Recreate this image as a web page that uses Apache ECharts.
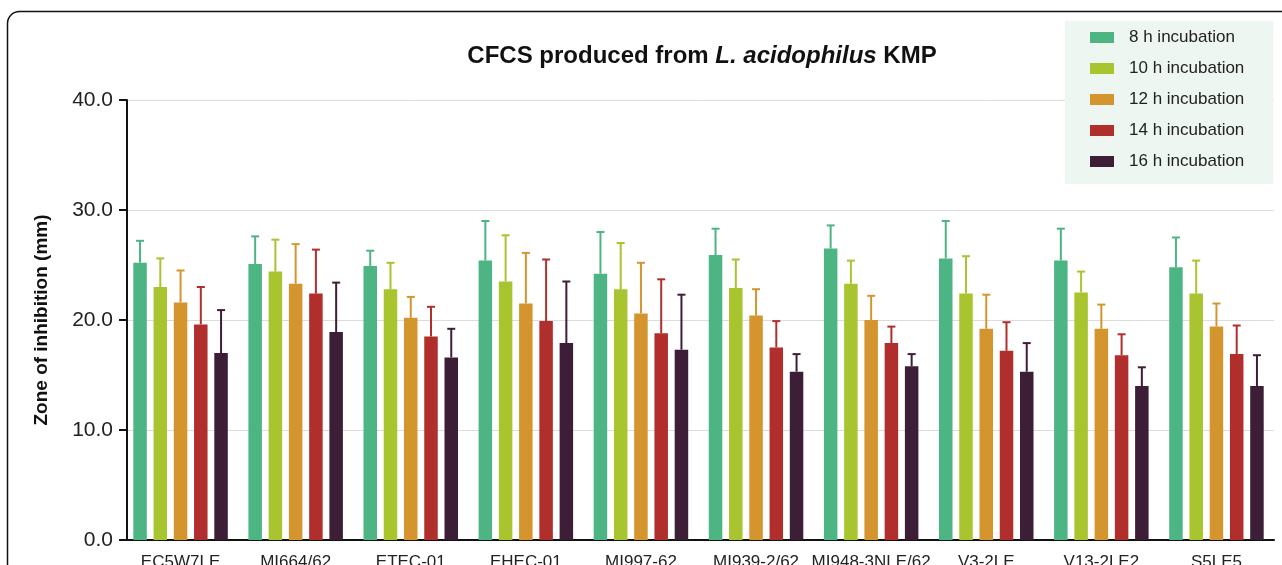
<!DOCTYPE html>
<html>
<head>
<meta charset="utf-8">
<script src="https://cdn.jsdelivr.net/npm/echarts@6/dist/echarts.min.js"></script>
<style>
  html, body { margin: 0; padding: 0; background: #fff; }
  #chart-container { width: 1282px; height: 565px; }
</style>
</head>
<body>
<div id="chart-container"></div>
<script>
// strains tested
var strains = ['EC5W7LE', 'MI664/62', 'ETEC-01', 'EHEC-01', 'MI997-62', 'MI939-2/62', 'MI948-3NLE/62', 'V3-2LE', 'V13-2LE2', 'S5LE5'];
var groups = ['8 h incubation', '10 h incubation', '12 h incubation', '14 h incubation', '16 h incubation'];
var colors = ['#4db584', '#a8c42e', '#d4952e', '#b02e2c', '#3d1e37'];

// mean zone of inhibition (mm)
var h8  = [25.2, 25.1, 24.9, 25.4, 24.2, 25.9, 26.5, 25.6, 25.4, 24.8];
var h10 = [23.0, 24.4, 22.8, 23.5, 22.8, 22.9, 23.3, 22.4, 22.5, 22.4];
var h12 = [21.6, 23.3, 20.2, 21.5, 20.6, 20.4, 20.0, 19.2, 19.2, 19.4];
var h14 = [19.6, 22.4, 18.5, 19.9, 18.8, 17.5, 17.9, 17.2, 16.8, 16.9];
var h16 = [17.0, 18.9, 16.6, 17.9, 17.3, 15.3, 15.8, 15.3, 14.0, 14.0];

// standard deviations (upper whisker)
var e8  = [2.0, 2.5, 1.4, 3.6, 3.8, 2.4, 2.1, 3.4, 2.9, 2.7];
var e10 = [2.6, 2.9, 2.4, 4.2, 4.2, 2.6, 2.1, 3.4, 1.9, 3.0];
var e12 = [2.9, 3.6, 1.9, 4.6, 4.6, 2.4, 2.2, 3.1, 2.2, 2.1];
var e14 = [3.4, 4.0, 2.7, 5.6, 4.9, 2.4, 1.5, 2.6, 1.9, 2.6];
var e16 = [3.9, 4.5, 2.6, 5.6, 5.0, 1.6, 1.1, 2.6, 1.7, 2.8];

var means = [h8, h10, h12, h14, h16];
var errs = [e8, e10, e12, e14, e16];

var barW = 13.5;
var step = barW * 1.5;

var dom = document.getElementById('chart-container');
var myChart = echarts.init(dom, null, { renderer: 'canvas' });

var series = [];
groups.forEach(function (name, i) {
  series.push({
    name: name,
    type: 'bar',
    data: means[i],
    barWidth: barW,
    barGap: '50%',
    itemStyle: { color: colors[i] },
    z: 2
  });
});
groups.forEach(function (name, i) {
  series.push({
    name: name,
    type: 'custom',
    data: means[i].map(function (m, k) { return [k, m, errs[i][k]]; }),
    encode: { x: 0, y: 1 },
    z: 3,
    renderItem: function (params, api) {
      var base = api.coord([api.value(0), api.value(1)]);
      var top = api.coord([api.value(0), api.value(1) + api.value(2)]);
      var cx = base[0] + (i - 2) * step;
      var st = { stroke: colors[i], lineWidth: 2 };
      return {
        type: 'group',
        children: [
          { type: 'line', shape: { x1: cx, y1: base[1], x2: cx, y2: top[1] }, style: st },
          { type: 'line', shape: { x1: cx - 4, y1: top[1], x2: cx + 4, y2: top[1] }, style: st }
        ]
      };
    }
  });
});

var option = {
  backgroundColor: '#fff',
  animation: false,
  title: {
    text: '{b|CFCS produced from }{i|L. acidophilus}{b| KMP}',
    left: 697,
    textAlign: 'center',
    top: 39,
    textStyle: {
      rich: {
        b: { fontFamily: 'Liberation Sans', fontWeight: 'bold', fontSize: 24, color: '#111' },
        i: { fontFamily: 'Liberation Sans', fontWeight: 'bold', fontStyle: 'italic', fontSize: 24, color: '#111' }
      }
    }
  },
  legend: {
    data: groups,
    orient: 'vertical',
    left: 1065,
    top: 21,
    padding: [8, 29, 14, 25],
    backgroundColor: '#eef6f2',
    icon: 'rect',
    itemWidth: 24,
    itemHeight: 11,
    itemGap: 14,
    textStyle: { fontFamily: 'Liberation Sans', fontSize: 17, color: '#222', lineHeight: 17, padding: [0, 0, 0, 10] }
  },
  grid: { left: 123, right: 8, top: 100, bottom: 25, containLabel: false, outerBoundsMode: 'none' },
  xAxis: {
    type: 'category',
    data: strains,
    axisLine: { lineStyle: { color: '#111', width: 2 } },
    axisTick: { alignWithLabel: true, length: 8, lineStyle: { color: '#111', width: 2 } },
    axisLabel: { fontFamily: 'Liberation Sans', fontSize: 17, color: '#222', margin: 14, interval: 0 }
  },
  yAxis: {
    type: 'value',
    min: 0,
    max: 40,
    interval: 10,
    offset: -4,
    name: 'Zone of inhibition (mm)',
    nameLocation: 'middle',
    nameGap: 76,
    nameTextStyle: { fontFamily: 'Liberation Sans', fontWeight: 'bold', fontSize: 19, color: '#111' },
    axisLine: { show: true, lineStyle: { color: '#111', width: 2 } },
    axisTick: { show: true, length: 8, lineStyle: { color: '#111', width: 2 } },
    axisLabel: {
      fontFamily: 'Liberation Sans', fontSize: 21, color: '#222', margin: 14,
      formatter: function (v) { return v.toFixed(1); }
    },
    splitLine: { lineStyle: { color: '#dcdcdc', width: 1 } }
  },
  graphic: [{
    type: 'rect',
    shape: { x: 7.5, y: 11.5, width: 1400, height: 700, r: 12 },
    style: { fill: 'none', stroke: '#111', lineWidth: 1.5 },
    silent: true,
    z: 100
  }],
  series: series
};

myChart.setOption(option);
window.addEventListener('resize', myChart.resize);
</script>
</body>
</html>
